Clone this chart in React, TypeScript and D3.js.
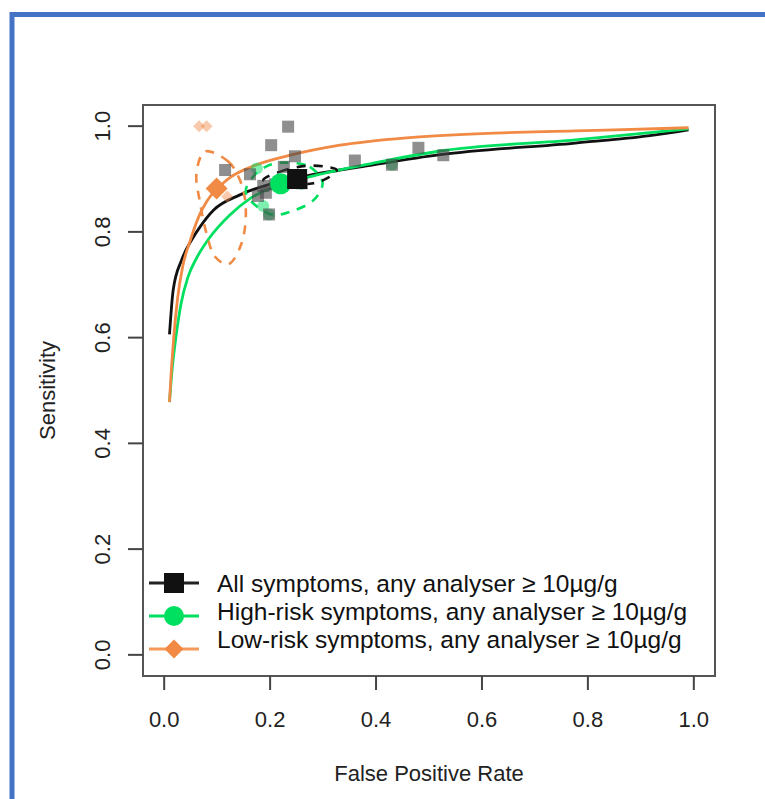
import React from "react";
import * as d3 from "d3";

// ---------- data ----------
const xTicks = [0, 0.2, 0.4, 0.6, 0.8, 1.0];
const yTicks = [0, 0.2, 0.4, 0.6, 0.8, 1.0];
const tickLabels = ["0.0", "0.2", "0.4", "0.6", "0.8", "1.0"];

// SROC curves: [false positive rate, sensitivity]
const srocAll: [number, number][] = [
  [0.010, 0.606], [0.017, 0.690], [0.033, 0.747], [0.052, 0.785], [0.068, 0.810],
  [0.093, 0.841], [0.143, 0.870], [0.206, 0.892], [0.269, 0.906], [0.395, 0.927],
  [0.521, 0.946], [0.776, 0.968], [0.917, 0.982], [0.990, 0.993],
];
const srocHigh: [number, number][] = [
  [0.010, 0.478], [0.015, 0.540], [0.022, 0.600], [0.032, 0.665], [0.045, 0.715],
  [0.062, 0.752], [0.085, 0.788], [0.124, 0.832], [0.162, 0.863], [0.219, 0.889],
  [0.282, 0.906], [0.395, 0.930], [0.521, 0.953], [0.776, 0.974], [0.990, 0.995],
];
const srocLow: [number, number][] = [
  [0.010, 0.478], [0.013, 0.530], [0.018, 0.600], [0.025, 0.672], [0.035, 0.735],
  [0.049, 0.783], [0.068, 0.835], [0.080, 0.857], [0.118, 0.898], [0.175, 0.927],
  [0.238, 0.945], [0.332, 0.964], [0.458, 0.978], [0.600, 0.986], [0.776, 0.991],
  [0.990, 0.997],
];

// 95% confidence regions (outline)
const confAll: [number, number][] = [
  [0.187, 0.898], [0.219, 0.914], [0.269, 0.925], [0.307, 0.923], [0.326, 0.917],
  [0.307, 0.901], [0.282, 0.892], [0.231, 0.889], [0.200, 0.891],
];
const confHigh: [number, number][] = [
  [0.231, 0.931], [0.275, 0.923], [0.299, 0.893], [0.282, 0.860], [0.238, 0.838],
  [0.206, 0.832], [0.175, 0.848], [0.154, 0.876], [0.171, 0.908], [0.200, 0.927],
];
const confLow: [number, number][] = [
  [0.077, 0.952], [0.121, 0.933], [0.143, 0.898], [0.154, 0.848], [0.146, 0.778],
  [0.121, 0.739], [0.096, 0.753], [0.080, 0.797], [0.068, 0.854], [0.061, 0.911],
];

// individual studies
const studiesAll: [number, number][] = [
  [0.234, 0.999], [0.202, 0.964], [0.247, 0.943], [0.115, 0.917], [0.162, 0.909],
  [0.226, 0.923], [0.360, 0.935], [0.480, 0.959], [0.527, 0.945], [0.430, 0.927],
  [0.177, 0.868], [0.192, 0.874], [0.187, 0.887], [0.209, 0.890], [0.198, 0.833],
  [0.260, 0.892],
];
const studiesHigh: [number, number][] = [
  [0.175, 0.920], [0.187, 0.849], [0.209, 0.890], [0.198, 0.833], [0.259, 0.891],
  [0.430, 0.927],
];
const studiesLow: [number, number][] = [
  [0.066, 1.0], [0.080, 1.0], [0.119, 0.867],
];

// summary points
const summaryAll: [number, number] = [0.251, 0.900];
const summaryHigh: [number, number] = [0.220, 0.891];
const summaryLow: [number, number] = [0.099, 0.882];

const legendLabels = [
  "All symptoms, any analyser \u2265 10\u00b5g/g",
  "High-risk symptoms, any analyser \u2265 10\u00b5g/g",
  "Low-risk symptoms, any analyser \u2265 10\u00b5g/g",
];

const BLACK = "#111111";
const GREEN = "#00E060";
const ORANGE = "#F08A44";
const FONT = "'Liberation Sans', Arial, Helvetica, sans-serif";

export default function App() {
  const W = 765, H = 799;
  const left = 143, right = 715, top = 105, bottom = 676;
  const x = d3.scaleLinear().domain([-0.04, 1.04]).range([left, right]);
  const y = d3.scaleLinear().domain([-0.04, 1.04]).range([bottom, top]);

  const curve = d3.line<[number, number]>()
    .x(d => x(d[0])).y(d => y(d[1]))
    .curve(d3.curveMonotoneX);
  const closed = d3.line<[number, number]>()
    .x(d => x(d[0])).y(d => y(d[1]))
    .curve(d3.curveCatmullRomClosed.alpha(0.5));

  const diamond = (cx: number, cy: number, r: number) =>
    `M${cx},${cy - r}L${cx + r},${cy}L${cx},${cy + r}L${cx - r},${cy}Z`;

  const legendSymY = [583, 616, 649];
  const legendTextY = [592, 620, 648];

  return (
    <svg width={W} height={H} viewBox={`0 0 ${W} ${H}`}
      style={{ position: "absolute", left: 0, top: 0, background: "#fff", display: "block" }}>
      <rect x={0} y={0} width={W} height={H} fill="#fff" />
      {/* blue frame */}
      <path d={`M12,${H + 10}V14.5H${W + 10}`} fill="none" stroke="#4472C4" strokeWidth={5} />

      {/* plot box */}
      <rect x={left} y={top} width={right - left} height={bottom - top}
        fill="none" stroke="#555" strokeWidth={2} />

      {/* x axis */}
      {xTicks.map((t, i) => (
        <g key={"xt" + i}>
          <line x1={x(t)} x2={x(t)} y1={bottom} y2={bottom + 14} stroke="#444" strokeWidth={2} />
          <text x={x(t)} y={727} textAnchor="middle" fontFamily={FONT} fontSize={22} fill="#222">
            {tickLabels[i]}
          </text>
        </g>
      ))}
      {/* y axis */}
      {yTicks.map((t, i) => (
        <g key={"yt" + i}>
          <line x1={left - 15} x2={left} y1={y(t)} y2={y(t)} stroke="#444" strokeWidth={2} />
          <text transform={`translate(110,${y(t)}) rotate(-90)`} textAnchor="middle"
            fontFamily={FONT} fontSize={22} fill="#222">
            {tickLabels[i]}
          </text>
        </g>
      ))}
      <text x={(left + right) / 2} y={781} textAnchor="middle" fontFamily={FONT} fontSize={22} fill="#222">
        False Positive Rate
      </text>
      <text transform={`translate(55,${(top + bottom) / 2}) rotate(-90)`} textAnchor="middle"
        fontFamily={FONT} fontSize={22} fill="#222">
        Sensitivity
      </text>

      {/* SROC curves */}
      <path d={curve(srocAll) || ""} fill="none" stroke={BLACK} strokeWidth={2.8} />
      <path d={curve(srocHigh) || ""} fill="none" stroke={GREEN} strokeWidth={2.8} />
      <path d={curve(srocLow) || ""} fill="none" stroke={ORANGE} strokeWidth={2.8} />

      {/* confidence regions */}
      <path d={closed(confLow) || ""} fill="none" stroke={ORANGE} strokeWidth={2.6} strokeDasharray="9,8" />
      <path d={closed(confHigh) || ""} fill="none" stroke={GREEN} strokeWidth={2.6} strokeDasharray="9,8" />
      <path d={closed(confAll) || ""} fill="none" stroke={BLACK} strokeWidth={2.6} strokeDasharray="9,8" />

      {/* studies */}
      {studiesHigh.map((d, i) => (
        <circle key={"sh" + i} cx={x(d[0])} cy={y(d[1])} r={6} fill={GREEN} fillOpacity={0.5} />
      ))}
      {studiesLow.map((d, i) => (
        <path key={"sl" + i} d={diamond(x(d[0]), y(d[1]), 6)} fill={ORANGE} fillOpacity={0.45} />
      ))}
      {studiesAll.map((d, i) => (
        <rect key={"sa" + i} x={x(d[0]) - 6} y={y(d[1]) - 6} width={12} height={12}
          fill="#444" fillOpacity={0.6} />
      ))}

      {/* summary points */}
      <path d={diamond(x(summaryLow[0]), y(summaryLow[1]), 11)} fill={ORANGE} />
      <circle cx={x(summaryHigh[0])} cy={y(summaryHigh[1])} r={10.5} fill={GREEN} />
      <rect x={x(summaryAll[0]) - 10} y={y(summaryAll[1]) - 10} width={20} height={20} fill={BLACK} />

      {/* legend */}
      {legendLabels.map((lab, i) => {
        const cy = legendSymY[i];
        const col = i === 0 ? "#222" : i === 1 ? GREEN : "#F4995A";
        return (
          <g key={"lg" + i}>
            <line x1={149} x2={199} y1={cy} y2={cy} stroke={col} strokeWidth={3} />
            {i === 0 && <rect x={164} y={cy - 10} width={20} height={20} fill={BLACK} />}
            {i === 1 && <circle cx={174} cy={cy} r={10} fill={GREEN} />}
            {i === 2 && <path d={diamond(174, cy, 9.5)} fill={ORANGE} />}
            <text x={217} y={legendTextY[i]} fontFamily={FONT} fontSize={24.5} fill="#111">{lab}</text>
          </g>
        );
      })}
    </svg>
  );
}
